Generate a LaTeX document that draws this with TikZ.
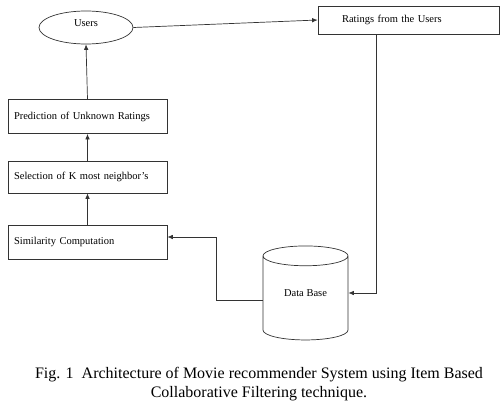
\documentclass[tikz,border=0pt]{standalone}
\usepackage{fontspec}
\setmainfont{Liberation Serif}
\usetikzlibrary{shapes.geometric, arrows.meta}

\tikzset{
  box/.style={draw=black!80, line width=0.7pt, rectangle, minimum height=34pt,
    text width=147pt, inner xsep=6pt, align=left, font=\fontsize{10.5}{12}\selectfont},
  flow/.style={draw=black!80, line width=0.7pt, -{Latex[length=5.5pt, width=4.5pt]}},
}

\begin{document}
\begin{tikzpicture}[x=1pt, y=-1pt]
  \useasboundingbox (0,0) rectangle (500,404);
  \node [ellipse, draw=black!80, line width=0.7pt, minimum width=94pt, minimum height=33pt,
    text depth=8pt, font=\fontsize{10.5}{12}\selectfont] (users) at (86,27.5) {Users};
  \node [box, text width=133pt, inner xsep=24pt, minimum height=28pt] (ratings) at (408.5,20) {Ratings from the Users};
  \node [box] (predict) at (87.5,116.5) {Prediction of Unknown Ratings};
  \node [box, minimum height=32pt] (select) at (87.5,177) {Selection of K most neighbor's};
  \node [box] (simil) at (87.5,242) {Similarity Computation};
  \node [cylinder, draw=black!80, line width=0.7pt, shape border rotate=90, aspect=0.4,
    minimum width=85pt, minimum height=94pt, text depth=14pt,
    font=\fontsize{10.5}{12}\selectfont] (db) at (305.5,300) {Data Base};
  \coordinate (bend) at (216,237);
  % connectors
  \draw [flow] (users.east) -- (ratings.west);
  \draw [flow] ([xshift=-32.5pt]ratings.south) |- ([yshift=7pt]db.east);
  \draw [flow] (db.west) -- (db.west -| bend) -- (bend) -- (simil.east |- bend);
  \draw [flow] (simil.north) -- (select.south);
  \draw [flow] (select.north) -- (predict.south);
  \draw [flow] (predict.north) -- (users.south);
  \node [align=center, font=\fontsize{16}{19}\selectfont] (caption) at (259,384)
    {Fig. 1\ \ Architecture of Movie recommender System using Item Based\\Collaborative Filtering technique.};
\end{tikzpicture}
\end{document}
